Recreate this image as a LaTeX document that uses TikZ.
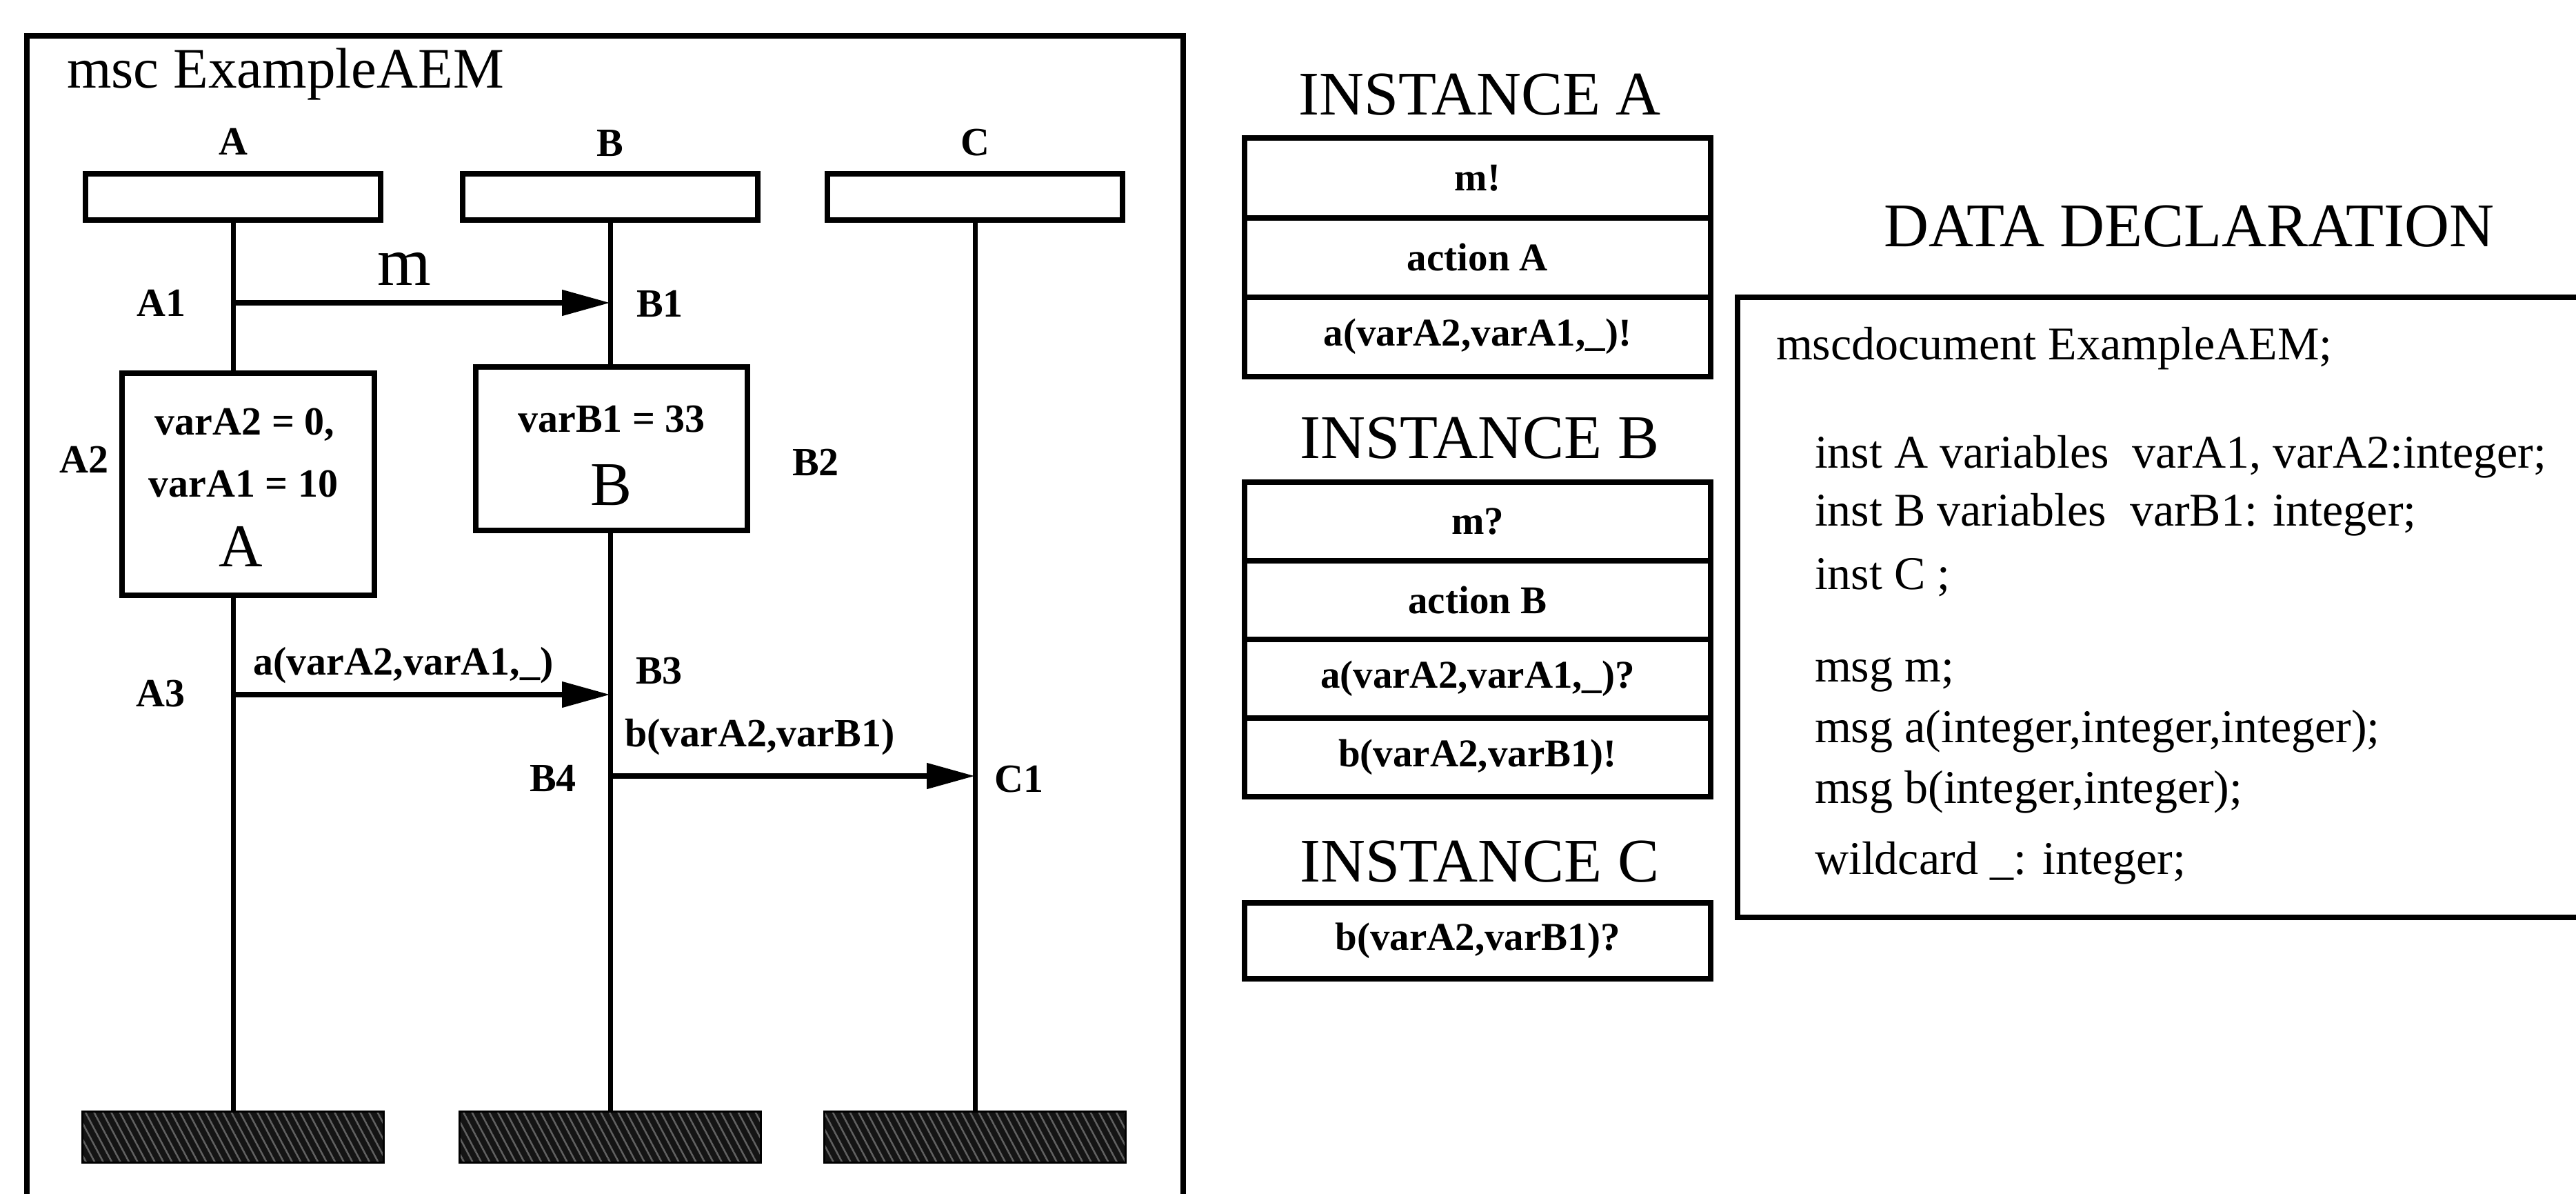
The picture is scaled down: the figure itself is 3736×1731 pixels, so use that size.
\documentclass[tikz,border=0pt]{standalone}
\usepackage{fontspec}
\setmainfont{Liberation Serif}
\usetikzlibrary{arrows.meta, positioning, patterns.meta}
\newcommand{\fsz}[1]{\fontsize{#1}{#1}\selectfont}

\begin{document}
\begin{tikzpicture}[
  x=1pt, y=-1pt,
  every node/.style={inner sep=0pt, outer sep=0pt},
  frame/.style={draw, line width=8pt},
  head/.style={draw, line width=8pt, minimum width=428pt, minimum height=67pt},
  actbox/.style={draw, line width=8pt},
  endbar/.style={draw, line width=3pt, minimum width=437pt, minimum height=74pt,
                 preaction={fill=black!92},
                 pattern={Lines[angle=-62, distance=11pt, line width=2.5pt]},
                 pattern color=black!62},
  life/.style={line width=7pt},
  msg/.style={line width=8pt, -{Triangle[length=70pt, width=36pt]}},
  lbl/.style={font=\fsz{58}\bfseries},
  row/.style={draw, line width=8pt, minimum width=676pt, minimum height=115pt,
              font=\fsz{57}\bfseries},
  hdr/.style={font=\fsz{90}, anchor=base},
  decl/.style={font=\fsz{68}, anchor=base west}
]
  \useasboundingbox (0,0) rectangle (3736,1731);

  %% MSC frame (runs off the bottom)
  \node[frame, anchor=north west, minimum width=1677pt, minimum height=1760pt] (msc) at (39,52) {};
  \node[anchor=base west, font=\fsz{83}] (title) at (97,128) {msc ExampleAEM};

  %% Instance heads
  \node[head] (headA) at (338,285) {};
  \node[head] (headB) at (885,285) {};
  \node[head] (headC) at (1414,285) {};
  \node[lbl, above=27pt of headA] (nameA) {A};
  \node[lbl, above=25pt of headB] (nameB) {B};
  \node[lbl, above=25pt of headC] (nameC) {C};

  %% Actions
  \node[actbox, minimum width=366pt, minimum height=322pt] (actA) at (360,702) {};
  \node[lbl, anchor=base]              (txtA2) at (355,630) {varA2 = 0,};
  \node[lbl, anchor=base]              (txtA1) at (353,720) {varA1 = 10};
  \node[font=\fsz{88}, anchor=base]    (bigA)  at (349,821) {A};
  \node[actbox, minimum width=394pt, minimum height=237pt] (actB) at (887,650) {};
  \node[lbl, anchor=base]              (txtB1) at (887,626) {varB1 = 33};
  \node[font=\fsz{90}, anchor=base]    (bigB)  at (887,732) {B};

  %% Instance ends
  \node[endbar] (endA) at (338,1648) {};
  \node[endbar] (endB) at (885,1648) {};
  \node[endbar] (endC) at (1414,1648) {};

  %% Lifelines
  \draw[life] (headA.south) -- (headA.south |- actA.north);
  \draw[life] (headA.south |- actA.south) -- (endA.north);
  \draw[life] (headB.south) -- (headB.south |- actB.north);
  \draw[life] (headB.south |- actB.south) -- (endB.north);
  \draw[life] (headC.south) -- (endC.north);

  %% Events
  \coordinate (evA1) at (338,439);
  \coordinate (evB1) at (885,439);
  \coordinate (evA3) at (338,1007);
  \coordinate (evB3) at (885,1007);
  \coordinate (evB4) at (885,1125);
  \coordinate (evC1) at (1414,1125);
  \node[lbl] (lA1) at (234,439)  {A1};
  \node[lbl] (lB1) at (957,440)  {B1};
  \node[lbl] (lA2) at (122,666)  {A2};
  \node[lbl] (lB2) at (1183,670) {B2};
  \node[lbl] (lA3) at (233,1006) {A3};
  \node[lbl] (lB3) at (956,973)  {B3};
  \node[lbl] (lB4) at (802,1128) {B4};
  \node[lbl] (lC1) at (1478,1130) {C1};

  %% Messages
  \draw[msg] (evA1) -- (evB1);
  \draw[msg] (evA3) -- (evB3);
  \draw[msg] (evB4) -- (evC1);
  \node[font=\fsz{100}, anchor=base] (msgm) at (586,413)  {m};
  \node[lbl, anchor=base]           (msga) at (585,978)  {a(varA2,varA1,\_)};
  \node[lbl, anchor=base]           (msgb) at (1102,1082) {b(varA2,varB1)};

  %% Instance tables
  \node[hdr] (hdrA) at (2146,167) {INSTANCE A};
  \node[row] (iA1) at (2143,258) {m!};
  \node[row, below=0pt of iA1] (iA2) {action A};
  \node[row, below=0pt of iA2] (iA3) {a(varA2,varA1,\_)!};

  \node[hdr] (hdrB) at (2146,664) {INSTANCE B};
  \node[row, minimum height=114pt] (iB1) at (2143,756) {m?};
  \node[row, minimum height=114pt, below=0pt of iB1] (iB2) {action B};
  \node[row, minimum height=114pt, below=0pt of iB2] (iB3) {a(varA2,varA1,\_)?};
  \node[row, minimum height=114pt, below=0pt of iB3] (iB4) {b(varA2,varB1)!};

  \node[hdr] (hdrC) at (2146,1278) {INSTANCE C};
  \node[row, minimum height=110pt] (iC1) at (2143,1364) {b(varA2,varB1)?};

  %% Data declaration (runs off the right edge)
  \node[hdr] (hdrD) at (3175,357) {DATA DECLARATION};
  \node[frame, anchor=north west, minimum width=1290pt, minimum height=899pt] (declbox) at (2520,431) {};
  \node[decl] (d1) at (2576,521)  {mscdocument ExampleAEM;};
  \node[decl] (d2) at (2632,678)  {inst A variables\ \ varA1, varA2:integer;};
  \node[decl] (d3) at (2632,762)  {inst B variables\ \ varB1: integer;};
  \node[decl] (d4) at (2632,854)  {inst C ;};
  \node[decl] (d5) at (2632,988)  {msg m;};
  \node[decl] (d6) at (2632,1076) {msg a(integer,integer,integer);};
  \node[decl] (d7) at (2632,1164) {msg b(integer,integer);};
  \node[decl] (d8) at (2632,1267) {wildcard \_: integer;};
\end{tikzpicture}
\end{document}
